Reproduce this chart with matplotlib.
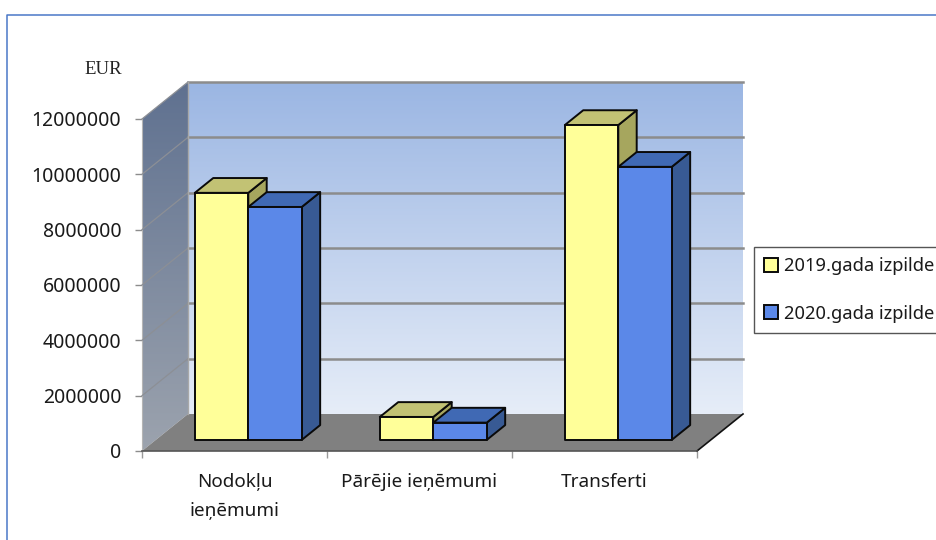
import numpy as np
import matplotlib
matplotlib.use("Agg")
import matplotlib.pyplot as plt
import matplotlib.patches as mpatches
from matplotlib.ticker import NullFormatter

categories = ["Nodokļu\nieņēmumi", "Pārējie ieņēmumi", "Transferti"]
vals_2019 = [8930000, 830000, 11380000]
vals_2020 = [8420000, 625000, 9870000]
series_names = ["2019.gada izpilde", "2020.gada izpilde"]
y_ticks = [0, 2000000, 4000000, 6000000, 8000000, 10000000, 12000000]
unit_label = "EUR"

plt.rcParams["font.family"] = ["Noto Sans", "DejaVu Sans"]

W, H = 937, 540
fig = plt.figure(figsize=(W / 100, H / 100), dpi=100)
ax = fig.add_axes([142 / W, (H - 451) / H, 555 / W, 332 / H], facecolor="none")
ax.set_xlim(0, 3)
ax.set_ylim(0, 12000000)

# depth of the fake 3d box, in data units
depth_x = 46 / 185
depth_y = 37 / 332 * 12000000
bar_front = 0.30
bar_depth = 0.40
bar_w = 0.289


def shifted(pts, f):
    return [(x + depth_x * f, y + depth_y * f) for x, y in pts]


def gradient(extent, top, bottom, clip=None, z=0):
    c0 = np.array(matplotlib.colors.to_rgb(top))
    c1 = np.array(matplotlib.colors.to_rgb(bottom))
    t = np.linspace(0, 1, 128)[:, None, None]
    img = ax.imshow(c0 + (c1 - c0) * t, extent=extent, aspect="auto", zorder=z,
                    interpolation="bilinear", clip_on=False)
    if clip is not None:
        img.set_clip_on(True)
        img.set_clip_box(fig.bbox)
        img.set_clip_path(clip)
    return img


top_val = y_ticks[-1]

# back wall
gradient((depth_x, 3 + depth_x, depth_y, top_val + depth_y), "#9BB6E3", "#E6EDF8", z=1)

# left wall
wall = mpatches.Polygon([(0, 0), (depth_x, depth_y), (depth_x, top_val + depth_y), (0, top_val)],
                        transform=ax.transData, facecolor="none", edgecolor="none", clip_on=False)
ax.add_patch(wall)
gradient((0, depth_x, 0, top_val + depth_y), "#5F7190", "#9CA3AE", clip=wall, z=1)

# floor
ax.add_patch(mpatches.Polygon([(0, 0), (3, 0), (3 + depth_x, depth_y), (depth_x, depth_y)],
                              facecolor="#808080", edgecolor="none", zorder=2, clip_on=False))
ax.plot([3, 3 + depth_x], [0, depth_y], color="#111111", lw=1.2, zorder=3, clip_on=False)

# grid lines on walls
for v in y_ticks:
    if v > 0:
        ax.plot([depth_x, 3 + depth_x], [v + depth_y, v + depth_y], color="#8C8C8C", lw=1.8,
                zorder=3, clip_on=False)
        ax.plot([0, depth_x], [v, v + depth_y], color="#8C8F95", lw=0.9, zorder=3, clip_on=False)
ax.plot([depth_x, depth_x], [depth_y, top_val + depth_y], color="#A8A8A8", lw=1.0, zorder=3, clip_on=False)

colors = [
    {"front": "#FFFF99", "top": "#C2C274", "side": "#A6A65E"},
    {"front": "#5B88E8", "top": "#4069B4", "side": "#385A94"},
]


def draw_bar(x0, val, col, z):
    x1 = x0 + bar_w
    front = shifted([(x0, 0), (x1, 0), (x1, val), (x0, val)], bar_front)
    f2 = bar_front + bar_depth
    top = shifted([(x0, val), (x1, val)], bar_front) + shifted([(x1, val), (x0, val)], f2)
    side = shifted([(x1, 0), (x1, val)], bar_front) + shifted([(x1, val), (x1, 0)], f2)
    for pts, key in ((side, "side"), (top, "top"), (front, "front")):
        ax.add_patch(mpatches.Polygon(pts, facecolor=col[key], edgecolor="#0A0A0A", lw=1.4,
                                      joinstyle="round", zorder=z, clip_on=False))


for i in range(len(categories)):
    draw_bar(i + 0.5 - bar_w, vals_2019[i], colors[0], 4 + i)
    draw_bar(i + 0.5, vals_2020[i], colors[1], 4 + i + 0.5)

# axes
for s in ("top", "right"):
    ax.spines[s].set_visible(False)
ax.spines["left"].set_color("#B5B5B5")
ax.spines["bottom"].set_color("#555555")
ax.spines["bottom"].set_linewidth(1.2)
ax.spines["bottom"].set_zorder(3.5)

ax.set_yticks(y_ticks)
ax.set_yticklabels([str(v) for v in y_ticks], fontsize=14, color="#1A1A1A")
ax.tick_params(axis="y", length=5, width=1, color="#8C8C8C", pad=10)
ax.set_xticks([0, 1, 2, 3])
ax.xaxis.set_major_formatter(NullFormatter())
ax.tick_params(axis="x", which="major", length=5, width=1, color="#9A9A9A")
ax.set_xticks([0.5, 1.5, 2.5], minor=True)
ax.set_xticklabels(categories, minor=True, fontsize=13.6, color="#1A1A1A", linespacing=1.75)
ax.tick_params(axis="x", which="minor", length=0, pad=16)

fig.text(122 / W, 1 - 70 / H, unit_label, family="Liberation Serif", fontsize=13.5, color="#222222",
         ha="right", va="center")

# outer border, open to the right and the bottom
fig.add_artist(plt.Line2D([7.5 / W, 7.5 / W, 1], [0, 1 - 14.5 / H, 1 - 14.5 / H], color="#4A78C8", lw=1.1))

handles = [mpatches.Patch(facecolor=colors[k]["front"], edgecolor="#0A0A0A", lw=1.4, label=series_names[k])
           for k in range(2)]
leg = fig.legend(handles=handles, loc="upper left", bbox_to_anchor=(754 / W, 1 - 247 / H),
                 fontsize=13.2, frameon=True, fancybox=False, edgecolor="#555555", framealpha=1,
                 handlelength=0.75, handleheight=0.75, handletextpad=0.3, labelspacing=1.6,
                 borderpad=0.56, borderaxespad=0, labelcolor="#1A1A1A")
leg.get_frame().set_linewidth(1.0)

fig.savefig("out.png", dpi=100)
